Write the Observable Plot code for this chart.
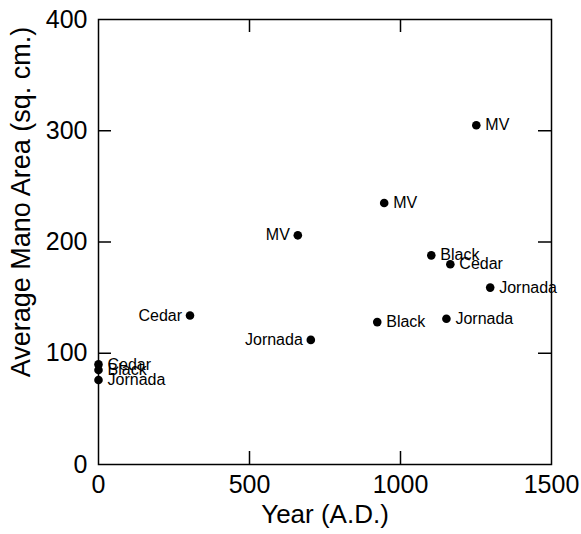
<!DOCTYPE html>
<html><head><meta charset="utf-8">
<script src="https://cdn.jsdelivr.net/npm/d3@7"></script>
<script src="https://cdn.jsdelivr.net/npm/@observablehq/plot@0.6"></script>
<style>
body{margin:0;background:#fff}
svg{font-family:"Liberation Sans",Arial,Helvetica,sans-serif;overflow:visible}
</style>
</head><body><div id="chart"></div>
<script>
// Data
const sites = ["Cedar","Black","Jornada","Cedar","MV","Jornada","Black","MV","Black","Jornada","Cedar","MV","Jornada"];
const years = [0,0,0,303,660,703,923,946,1102,1152,1165,1251,1297];
const areas = [90,85,76,134,206,112,128,235,188,131,180,305,159];
const labelLeft = [false,false,false,true,true,true,false,false,false,false,false,false,false];
const xTicks = [0,500,1000,1500];
const yTicks = [0,100,200,300,400];
const xTitle = "Year (A.D.)";
const yTitle = "Average Mano Area (sq. cm.)";

const data = sites.map((s,i)=>({site:s, year:years[i], area:areas[i], left:labelLeft[i]}));
const inner = xTicks.slice(1,-1);
const innerY = yTicks.slice(1,-1);
const W = 581, H = 534, mL = 98, mR = 30, mT = 19, mB = 70;
const tickLen = 13;
const fw = W - mL - mR, fh = H - mT - mB;

const chart = Plot.plot({
  width: W, height: H,
  marginLeft: mL, marginRight: mR, marginTop: mT, marginBottom: mB,
  style: {fontFamily: '"Liberation Sans",Arial,sans-serif', color:"#000", background:"#fff", overflow:"visible"},
  x: {domain: [0,1500]},
  y: {domain: [0,400]},
  marks: [
    Plot.frame({stroke:"#000", strokeWidth:1.5}),
    Plot.axisX(xTicks, {tickSize:0, tickPadding:11, fontSize:25, label:null, tickFormat:d=>String(d)}),
    Plot.axisY(yTicks, {tickSize:0, tickPadding:11, fontSize:25, label:null, tickFormat:d=>String(d)}),
    Plot.tickX(inner, {x:d=>d, insetTop: fh - tickLen, stroke:"#000", strokeWidth:1.5}),
    Plot.tickX(inner, {x:d=>d, insetBottom: fh - tickLen, stroke:"#000", strokeWidth:1.5}),
    Plot.tickY(innerY, {y:d=>d, insetRight: fw - tickLen, stroke:"#000", strokeWidth:1.5}),
    Plot.tickY(innerY, {y:d=>d, insetLeft: fw - tickLen, stroke:"#000", strokeWidth:1.5}),
    Plot.text([xTitle], {frameAnchor:"bottom", dy:58, fontSize:26, fill:"#000"}),
    Plot.text([yTitle], {frameAnchor:"left", textAnchor:"middle", rotate:-90, dx:-77, dy:-40, fontSize:27, fill:"#000"}),
    Plot.dot(data, {x:"year", y:"area", r:4.3, fill:"#000", stroke:null}),
    Plot.text(data.filter(d=>!d.left), {x:"year", y:"area", text:"site", textAnchor:"start", dx:9, fontSize:16, fill:"#000"}),
    Plot.text(data.filter(d=>d.left), {x:"year", y:"area", text:"site", textAnchor:"end", dx:-8, fontSize:16, fill:"#000"})
  ]
});
document.getElementById("chart").append(chart);
</script>
</body></html>
